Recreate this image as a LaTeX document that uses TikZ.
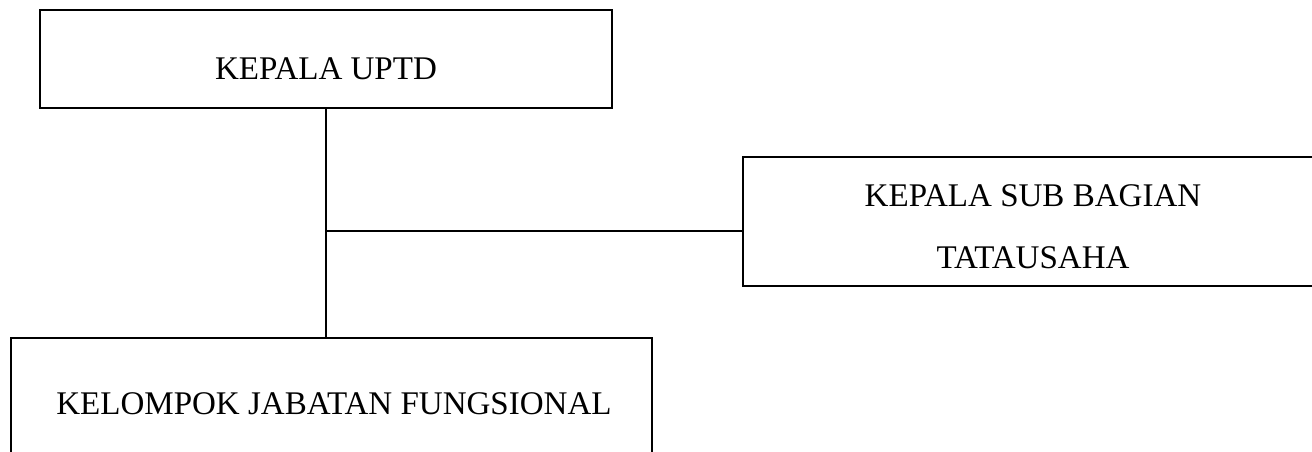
\documentclass[tikz,border=0pt]{standalone}
\usepackage{fontspec}
\setmainfont{Liberation Serif}
\begin{document}
\begin{tikzpicture}[
  orgbox/.style={draw=black, line width=1.5pt, rectangle, inner sep=0pt},
  orgtext/.style={inner sep=0pt, align=center, font=\fontsize{18.8}{35}\selectfont},
  link/.style={draw=black, line width=1.5pt}
]
\useasboundingbox (0,0) rectangle (26.24,9.02);
\clip (0,0) rectangle (26.24,9.02);
\fill[white] (0,0) rectangle (26.24,9.02);
\node[orgbox, minimum width=11.44cm, minimum height=1.96cm] (b1) at (6.52,7.84) {};
\node[orgbox, minimum width=11.5cm, minimum height=2.58cm] (b2) at (20.61,4.59) {};
\node[orgbox, minimum width=12.82cm, minimum height=2.64cm] (b3) at (6.63,0.94) {};
\node[orgtext] (t1) at ([yshift=-0.2cm]b1.center) {KEPALA UPTD};
\node[orgtext] (t2) at ([xshift=0.05cm,yshift=-0.1cm]b2.center) {KEPALA SUB BAGIAN\\TATAUSAHA};
\node[orgtext] (t3) at ([xshift=0.05cm]b3.center) {KELOMPOK JABATAN FUNGSIONAL};
\coordinate (j) at (6.52,4.40);
\draw[link] (b1.south) -- (b1.south |- b3.north);
\draw[link] (j) -- (j -| b2.west);
\end{tikzpicture}
\end{document}
